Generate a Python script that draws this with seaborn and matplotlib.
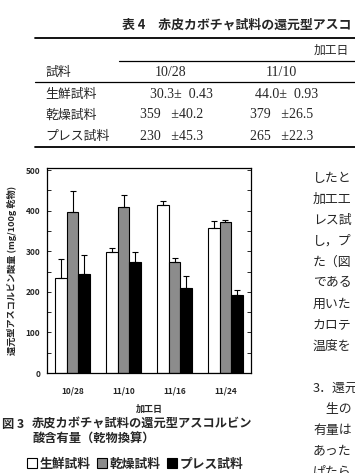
import pandas as pd
import matplotlib.pyplot as plt
import matplotlib.lines as mlines
import numpy as np
import seaborn as sns

# chart data (mg/100g dry matter)
dates = ['10/28', '11/10', '11/16', '11/24']
samples = ['生鮮試料', '乾燥試料', 'プレス試料']
fresh = [233, 299, 414, 356]
dried = [397, 410, 273, 371]
pressed = [243, 274, 209, 192]
fresh_err = [47, 8, 10, 19]
dried_err = [51, 29, 10, 7]
pressed_err = [47, 25, 31, 12]

# table 4 (partly visible)
table_dates = ['10/28', '11/10']
table_rows = [['30.3±  0.43', '44.0±  0.93'],
              ['359   ±40.2', '379   ±26.5'],
              ['230   ±45.3', '265   ±22.3']]

side_top = ['したと', '加工工', 'レス試', 'し，プ', 'た（図', 'である', '用いた', 'カロテ', '温度を']
side_bottom = ['3．還元', '　生の', '有量は', 'あった', 'ぱたら']

sns.set_theme(style='ticks')
plt.rcParams['font.family'] = ['Noto Sans CJK JP', 'DejaVu Sans']

W, H = 355, 473
def px(x, y):
    return x / W, 1 - y / H

fig = plt.figure(figsize=(W / 100, H / 100), dpi=100)

# ---- table at top ----
fig.text(*px(122, 25), '表 4　赤皮カボチャ試料の還元型アスコ', fontsize=9.3, fontweight='bold', va='center')
for y, x0, lw in [(38, 35, 1.3), (61, 119, 0.9), (82, 35, 0.9), (147, 35, 1.3)]:
    fig.add_artist(mlines.Line2D([x0 / W, 1], [1 - y / H] * 2, color='black', lw=lw))
fig.text(*px(314, 50), '加工日', fontsize=8.5, va='center')
fig.text(*px(45, 72), '試料', fontsize=9.3, va='center')
serif = ['Liberation Serif', 'Noto Sans CJK JP']
for x, d in zip([171, 281], table_dates):
    fig.text(*px(x, 72), d, fontsize=10, va='center', ha='center', family=serif)
for i, (name, row) in enumerate(zip(samples, table_rows)):
    y = 94 + i * 21
    fig.text(*px(45, y), name, fontsize=9.3, va='center')
    xs = [150, 255] if i == 0 else [140, 250]
    for x, val in zip(xs, row):
        fig.text(*px(x, y), val, fontsize=10, va='center', family=serif)

# ---- bar chart ----
df = pd.DataFrame({
    '加工日': dates * 3,
    '試料': np.repeat(samples, len(dates)),
    '値': fresh + dried + pressed,
})
errs = [fresh_err, dried_err, pressed_err]

ax = fig.add_axes([47 / W, 1 - 373 / H, 204 / W, 205 / H])
palette = {'生鮮試料': 'white', '乾燥試料': '#8c8c8c', 'プレス試料': 'black'}
sns.barplot(data=df, x='加工日', y='値', hue='試料', hue_order=samples, palette=palette,
            width=0.69, errorbar=None, saturation=1, edgecolor='black', linewidth=0.8, ax=ax)

for cont, err in zip(ax.containers, errs):
    xs = [b.get_x() + b.get_width() / 2 for b in cont]
    ys = [b.get_height() for b in cont]
    ax.errorbar(xs, ys, yerr=[np.zeros(len(err)), err], fmt='none', ecolor='black',
                elinewidth=0.8, capsize=2.5, capthick=0.8, zorder=5)

ax.set_xlim(-0.5, 3.5)
ax.set_ylim(0, 505)
ax.set_yticks(range(0, 501, 100))
ax.set_yticks(range(50, 501, 100), minor=True)
ax.tick_params(axis='y', which='both', direction='in', length=3, width=0.7, pad=5,
               labelsize=6, right=True)
ax.tick_params(axis='x', length=0, pad=10, labelsize=6)
for lab in ax.get_yticklabels():
    lab.set_fontweight('bold')
for lab in ax.get_xticklabels():
    lab.set_fontweight('bold')
    lab.set_fontstyle('italic')
for s in ax.spines.values():
    s.set_visible(True)
    s.set_linewidth(0.9)
    s.set_color('black')
ax.set_xlabel('加工日', fontsize=6.5, fontweight='bold', labelpad=6)
ax.set_ylabel('還元型アスコルビン酸量 (mg/100g 乾物)', fontsize=6.6, fontweight='bold', labelpad=6)

handles, labels = ax.get_legend_handles_labels()
ax.get_legend().remove()
fig.legend(handles, labels, loc='center', bbox_to_anchor=px(135, 464), ncol=3, frameon=False,
           handlelength=0.8, handleheight=0.8, handletextpad=0.2, columnspacing=0.5,
           borderpad=0, prop={'weight': 'bold', 'size': 9.2})

fig.text(*px(2, 424), '図 3', fontsize=8.8, fontweight='bold', va='center')
fig.text(*px(32, 424), '赤皮カボチャ試料の還元型アスコルビン', fontsize=8.8, fontweight='bold', va='center')
fig.text(*px(32, 439), '酸含有量（乾物換算）', fontsize=8.8, fontweight='bold', va='center')

# ---- body text on the right ----
for i, line in enumerate(side_top):
    fig.text(*px(313, 178 + i * 21), line, fontsize=9.3, va='center')
for i, line in enumerate(side_bottom):
    fig.text(*px(313, 388 + i * 21), line, fontsize=9.3, va='center')

fig.savefig('out.png', dpi=100)
